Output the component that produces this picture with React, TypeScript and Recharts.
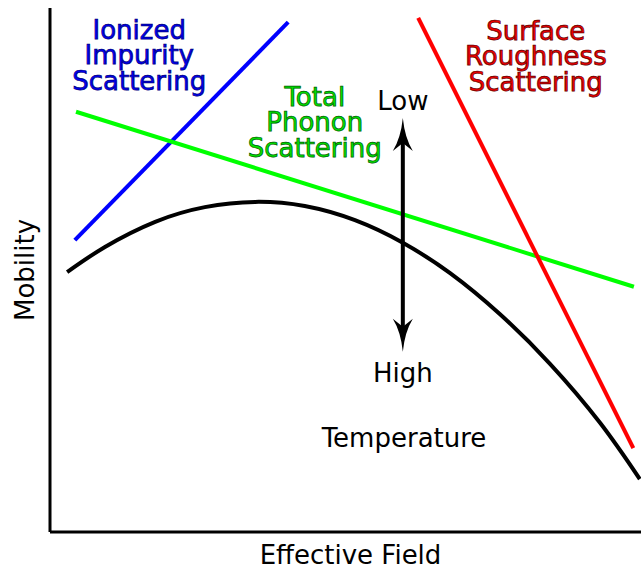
import { LineChart, Line, XAxis, YAxis, ReferenceDot, ReferenceLine } from 'recharts'

// Mobility vs. effective field, in arbitrary units (0..10 on both axes)
const ionizedImpurity = [
  { x: 0.42, y: 5.57 },
  { x: 4.03, y: 9.73 },
]
const totalPhonon = [
  { x: 0.44, y: 8.02 },
  { x: 9.88, y: 4.68 },
]
const surfaceRoughness = [
  { x: 6.23, y: 9.81 },
  { x: 9.87, y: 1.6 },
]
const effectiveMobility = [
  { x: 0.29, y: 4.96 },
  { x: 0.93, y: 5.44 },
  { x: 1.78, y: 5.92 },
  { x: 2.62, y: 6.2 },
  { x: 3.47, y: 6.3 },
  { x: 4.31, y: 6.22 },
  { x: 5.16, y: 5.95 },
  { x: 5.97, y: 5.52 },
  { x: 6.77, y: 4.94 },
  { x: 7.61, y: 4.16 },
  { x: 8.46, y: 3.21 },
  { x: 9.31, y: 2.08 },
  { x: 9.98, y: 1.01 },
]

// temperature arrow: low end at top, high end at bottom
const temperatureArrow = [
  { x: 5.97, y: 7.9 },
  { x: 5.97, y: 3.44 },
]

const callouts = [
  { x: 1.51, y: 9.41, lines: ['Ionized', 'Impurity', 'Scattering'], fill: '#0000ee', stroke: '#000080' },
  { x: 4.48, y: 8.13, lines: ['Total', 'Phonon', 'Scattering'], fill: '#00e400', stroke: '#006000' },
  { x: 8.22, y: 9.39, lines: ['Surface', 'Roughness', 'Scattering'], fill: '#ee0000', stroke: '#640000' },
  { x: 5.97, y: 8.05, lines: ['Low'], fill: '#000', stroke: 'none' },
  { x: 5.97, y: 2.86, lines: ['High'], fill: '#000', stroke: 'none' },
  { x: 5.99, y: 1.62, lines: ['Temperature'], fill: '#000', stroke: 'none' },
]

const FONT = 'DejaVu Sans, Verdana, sans-serif'

function MultiLineText({ cx, cy, lines, fill, stroke }: any) {
  return (
    <text
      x={cx}
      y={cy}
      textAnchor="middle"
      fontFamily={FONT}
      fontSize={26}
      fill={fill}
      stroke={stroke}
      strokeWidth={stroke === 'none' ? 0 : 0.75}
    >
      {lines.map((l: string, i: number) => (
        <tspan key={i} x={cx} dy={i === 0 ? 0 : 25.5}>
          {l}
        </tspan>
      ))}
    </text>
  )
}

function Arrowhead({ x, tip, dir }: { x: number; tip: number; dir: 1 | -1 }) {
  // dir = 1 points up (body below the tip), -1 points down
  const d = (v: number) => tip + dir * v
  return (
    <path
      d={`M${x},${tip} Q${x + 2},${d(20)} ${x + 10},${d(33)} L${x},${d(25)} L${x - 10},${d(33)} Q${x - 2},${d(20)} ${x},${tip} Z`}
      fill="#000"
    />
  )
}

function DoubleArrow(props: any) {
  const { x1, y1, x2, y2 } = props
  const top = Math.min(y1, y2)
  const bottom = Math.max(y1, y2)
  const x = (x1 + x2) / 2
  return (
    <g>
      <line x1={x} y1={top + 20} x2={x} y2={bottom - 20} stroke="#000" strokeWidth={4} />
      <Arrowhead x={x} tip={top} dir={1} />
      <Arrowhead x={x} tip={bottom} dir={-1} />
    </g>
  )
}

export default function App() {
  return (
    <div style={{ position: 'absolute', left: 0, top: 0 }}>
      <LineChart width={641} height={571} margin={{ top: 8, right: 0, bottom: 38, left: 49 }}>
        <XAxis
          type="number"
          dataKey="x"
          domain={[0, 10]}
          allowDataOverflow
          height={1}
          tick={false}
          tickLine={false}
          axisLine={{ stroke: '#000', strokeWidth: 3 }}
          label={{
            content: ({ viewBox }: any) => (
              <text
                x={viewBox.x + viewBox.width / 2 + 5}
                y={viewBox.y + 32}
                textAnchor="middle"
                fontFamily={FONT}
                fontSize={26}
                fill="#000"
              >
                Effective Field
              </text>
            ),
          }}
        />
        <YAxis
          type="number"
          dataKey="y"
          domain={[0, 10]}
          allowDataOverflow
          width={1}
          tick={false}
          tickLine={false}
          axisLine={{ stroke: '#000', strokeWidth: 3 }}
          label={{
            content: ({ viewBox }: any) => {
              const cx = viewBox.x - 24
              const cy = viewBox.y + viewBox.height / 2
              return (
                <text
                  x={cx}
                  y={cy}
                  transform={`rotate(-90 ${cx} ${cy})`}
                  textAnchor="middle"
                  dominantBaseline="central"
                  fontFamily={FONT}
                  fontSize={26}
                  fill="#000"
                >
                  Mobility
                </text>
              )
            },
          }}
        />
        <Line data={ionizedImpurity} dataKey="y" type="linear" stroke="#0000ff" strokeWidth={4} dot={false} activeDot={false} isAnimationActive={false} />
        <Line data={totalPhonon} dataKey="y" type="linear" stroke="#00ff00" strokeWidth={4} dot={false} activeDot={false} isAnimationActive={false} />
        <Line data={surfaceRoughness} dataKey="y" type="linear" stroke="#ff0000" strokeWidth={4} dot={false} activeDot={false} isAnimationActive={false} />
        <Line data={effectiveMobility} dataKey="y" type="natural" stroke="#000" strokeWidth={4} dot={false} activeDot={false} isAnimationActive={false} />
        <ReferenceLine
          segment={temperatureArrow}
          stroke="#000"
          shape={(p: any) => <DoubleArrow {...p} />}
        />
        {callouts.map((c, i) => (
          <ReferenceDot
            key={i}
            x={c.x}
            y={c.y}
            r={0}
            shape={(p: any) => <MultiLineText cx={p.cx} cy={p.cy} lines={c.lines} fill={c.fill} stroke={c.stroke} />}
          />
        ))}
      </LineChart>
    </div>
  )
}
